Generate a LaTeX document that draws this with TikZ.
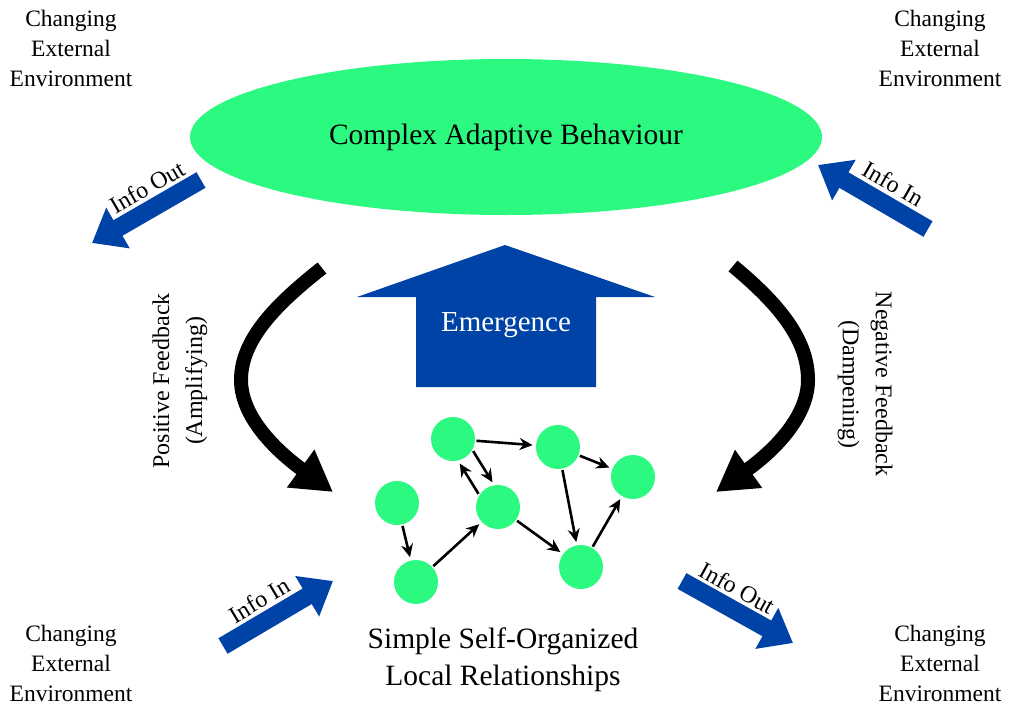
\documentclass[tikz,border=0pt]{standalone}
\usepackage{fontspec}
\setmainfont{Liberation Serif}
\usetikzlibrary{arrows.meta,shapes.geometric}
\definecolor{agentgreen}{HTML}{2CFA80}
\definecolor{flowblue}{HTML}{0043A6}

\begin{document}
\begin{tikzpicture}
  [x=1pt, y=-1pt,
   agent/.style={draw=none,shape=circle,fill=agentgreen,inner sep=0,minimum size=44pt,outer sep=1.5pt},
   link/.style={line width=2.6pt,-{Stealth[length=13pt,width=12pt]},shorten >=2pt},
   envtext/.style={align=center,font=\fontsize{23.5}{30}\selectfont},
   infoflow/.style={draw=flowblue,line width=18pt,-{Triangle[length=30pt,width=45pt]}},
   infotext/.style={font=\fontsize{24}{28}\selectfont},
   feedback/.style={draw=black,line width=14pt,-{Triangle[length=40pt,width=44pt]}},
   fbtext/.style={align=center,font=\fontsize{24}{33}\selectfont}]

  \useasboundingbox (0,0) rectangle (1030,720);

  \node[envtext] (envTL) at (71,48) {Changing\\External\\Environment};
  \node[envtext] (envTR) at (940,48) {Changing\\External\\Environment};
  \node[envtext] (envBL) at (71,663) {Changing\\External\\Environment};
  \node[envtext] (envBR) at (940,663) {Changing\\External\\Environment};

  \node[ellipse,fill=agentgreen,minimum width=632pt,minimum height=156pt,inner sep=0,
        font=\fontsize{29.5}{35}\selectfont] (behaviour) at (506,137) {Complex Adaptive Behaviour};

  \fill[flowblue] (505,245) -- (655,297) -- (596,297) -- (596,387) -- (416,387) -- (416,297) -- (357,297) -- cycle;
  \node[text=white,font=\fontsize{29}{34}\selectfont] (emergence) at (506,325) {Emergence};

  \coordinate (outTLtail) at (201,180);
  \coordinate (outTLtip) at (92,243);
  \coordinate (inTRtail) at (928,229);
  \coordinate (inTRtip) at (818,165);
  \coordinate (inBLtail) at (223,646);
  \coordinate (inBLtip) at (333,581);
  \coordinate (outBRtail) at (682,581);
  \coordinate (outBRtip) at (793,643);

  \draw[infoflow] (outTLtail) -- (outTLtip);
  \draw[infoflow] (inTRtail) -- (inTRtip);
  \draw[infoflow] (inBLtail) -- (inBLtip);
  \draw[infoflow] (outBRtail) -- (outBRtip);

  \node[infotext,rotate=30] (outTLlabel) at (147,187) {Info Out};
  \node[infotext,rotate=-30] (inTRlabel) at (893,184) {Info In};
  \node[infotext,rotate=31] (inBLlabel) at (259,600) {Info In};
  \node[infotext,rotate=-29] (outBRlabel) at (737,588) {Info Out};

  \coordinate (posstart) at (322,268);
  \coordinate (posturn) at (241,380);
  \coordinate (posend) at (333,492);
  \coordinate (negstart) at (733,266);
  \coordinate (negturn) at (808,380);
  \coordinate (negend) at (716,492);

  \draw[feedback] (posstart) .. controls (275,305) and (241,340) .. (posturn)
                  .. controls (241,420) and (282,455) .. (posend);
  \draw[feedback] (negstart) .. controls (780,305) and (808,340) .. (negturn)
                  .. controls (808,420) and (768,455) .. (negend);

  \node[fbtext,rotate=90] (poslabel) at (180,381) {Positive Feedback\\(Amplifying)};
  \node[fbtext,rotate=-90] (neglabel) at (865,384) {Negative Feedback\\(Dampening)};

  \node[agent] (a) at (453,439) {};
  \node[agent] (b) at (558,447) {};
  \node[agent] (c) at (633,477) {};
  \node[agent] (d) at (498,507) {};
  \node[agent] (e) at (397,503) {};
  \node[agent] (f) at (416,582) {};
  \node[agent] (g) at (581,567) {};

  \draw[link] (e) -- (f);
  \draw[link] (f) -- (d);
  \draw[link] (a.-31) -- (d.101);
  \draw[link] (d.146) -- (a.-76);
  \draw[link] (a) -- (b);
  \draw[link] (b) -- (c);
  \draw[link] (b) -- (g);
  \draw[link] (d) -- (g);
  \draw[link] (g) -- (c);

  \node[align=center,font=\fontsize{29.5}{37}\selectfont] (local) at (503,660) {Simple Self-Organized\\Local Relationships};
\end{tikzpicture}
\end{document}
